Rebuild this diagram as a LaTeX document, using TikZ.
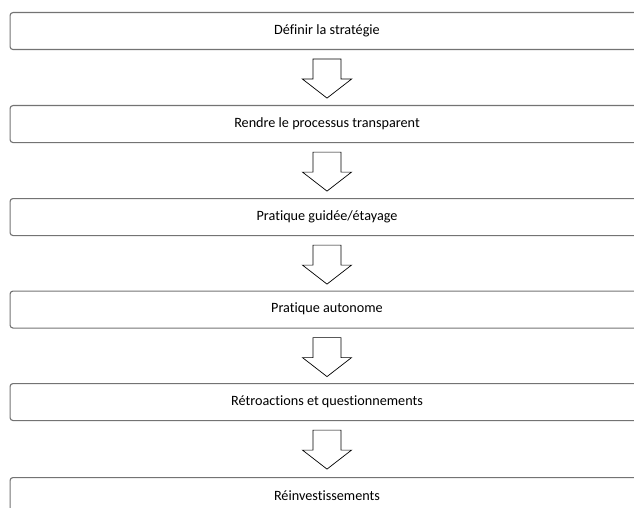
\documentclass[tikz,border=0pt]{standalone}
\usepackage{fontspec}
\setmainfont{Carlito}[Ligatures={NoCommon},Contextuals=NoAlternate]
\begin{document}
\begin{tikzpicture}[x=1pt,y=-1pt,
  stepbox/.style={draw=black!55,line width=1.1pt,rounded corners=3pt,minimum width=636pt,minimum height=37pt,inner sep=0pt,anchor=north west},
  steptext/.style={font=\fontsize{14.2}{17}\selectfont,inner sep=0pt},
  downarrow/.style={draw=black,line width=0.7pt,fill=white,line join=miter}]
\useasboundingbox (0,0) rectangle (634,508);
\clip (0,0) rectangle (634,508);
\node[stepbox] (s1) at (9.5,12) {};
\node[stepbox] (s2) at (9.5,105) {};
\node[stepbox] (s3) at (9.5,198) {};
\node[stepbox] (s4) at (9.5,290.5) {};
\node[stepbox] (s5) at (9.5,383) {};
\node[stepbox] (s6) at (9.5,477) {};
\foreach \n/\t in {s1/{Définir la stratégie},s2/{Rendre le processus transparent},s3/{Pratique guidée/étayage},s4/{Pratique autonome},s5/{Rétroactions et questionnements},s6/{Réinvestissements}}{
  \node[steptext] at ([yshift=-18.5pt]\n.north west -| 327,0) {\t};
}
\foreach \a/\b in {s1/s2,s2/s3,s3/s4,s4/s5,s5/s6}{
  \path (\a.south west) coordinate (top);
  \draw[downarrow] (top -| 313,0) ++(0,9)
    -- ++(28,0) -- ++(0,20) -- ++(10.5,0) -- ++(-24.5,19) -- ++(-24.5,-19) -- ++(10.5,0) -- cycle;
}
\end{tikzpicture}
\end{document}
